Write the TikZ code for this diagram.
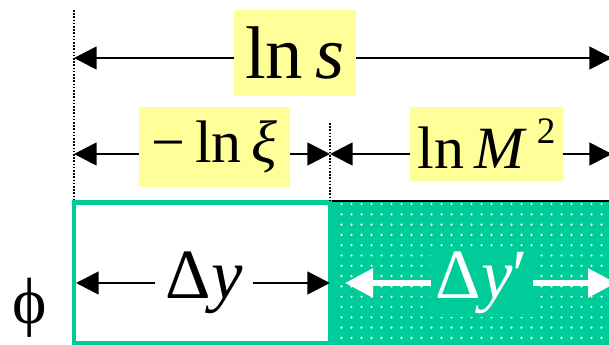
\documentclass[tikz,border=0pt]{standalone}
\usepackage{fontspec}
\setmainfont{Liberation Serif}
\usetikzlibrary{arrows.meta,positioning,calc}
\definecolor{spgreen}{RGB}{0,204,153}
\definecolor{lblyellow}{RGB}{255,255,153}
\tikzset{
  gap/.style={line width=2.1pt,{Triangle[length=17pt,width=17pt]}-{Triangle[length=17pt,width=17pt]}},
  wgap/.style={white,line width=4pt,{Triangle[length=21pt,width=21pt]}-{Triangle[length=21pt,width=21pt]}},
  lbl/.style={fill=lblyellow,inner sep=0pt,anchor=center},
  guide/.style={line width=1.5pt,dash pattern=on 1.2pt off 1.2pt},
}
\begin{document}
\begin{tikzpicture}[x=0.75pt,y=-0.75pt]
  \clip (0,0) rectangle (609,345);
  % green box and the empty one
  \fill[spgreen] (330,201) rectangle (615,350);
  \foreach \i in {0,...,26}{
    \foreach \j in {0,...,13}{
      \fill[white] ({341.5+10*\i},{204+10.3*\j}) circle (1.2);
    }
  }
  \draw[line width=0.9pt] (615,201) -- (330,201) -- (330,350);
  \draw[spgreen,line width=3.2pt] (74,202.5) rectangle (330,343);
  % guides
  \coordinate (gl-top) at (74,10);
  \coordinate (gl-bot) at (74,200);
  \coordinate (gm-top) at (330,123);
  \coordinate (gm-bot) at (330,200);
  \draw[guide] (gl-top) -- (gl-bot);
  \draw[guide] (gm-top) -- (gm-bot);
  % ranges
  \coordinate (s-l) at (74,58);
  \coordinate (s-r) at (612,58);
  \coordinate (xi-l) at (74,154);
  \coordinate (xi-r) at (330,154);
  \coordinate (m-l) at (330,154);
  \coordinate (m-r) at (612,154);
  \coordinate (dy-l) at (76,283);
  \coordinate (dy-r) at (330,283);
  \coordinate (dyp-l) at (345,283);
  \coordinate (dyp-r) at (616,283);
  \draw[gap] (s-l) -- (s-r);
  \draw[gap] (xi-l) -- (xi-r);
  \draw[gap] (m-l) -- (m-r);
  \draw[gap] (dy-l) -- (dy-r);
  \draw[wgap] (dyp-l) -- (dyp-r);
  \node[lbl,minimum width=91.5pt,minimum height=64.5pt,font=\fontsize{56}{60}\selectfont] (lns) at (295,53) {ln\,\textit{s}};
  \node[lbl,minimum width=113pt,minimum height=60pt,font=\fontsize{45}{50}\selectfont] (lnxi) at (214.5,147) {−\,ln\,\textit{ξ}};
  \node[lbl,minimum width=115pt,minimum height=55.5pt,font=\fontsize{45}{50}\selectfont] (lnM) at (486.5,144) {ln\,\textit{M}\,\raisebox{0.42em}{\fontsize{28}{30}\selectfont 2}};
  \node[fill=white,inner xsep=8pt,inner ysep=2pt,font=\fontsize{53}{58}\selectfont] (dy) at (204,283) {Δ\textit{y}};
  \node[fill=spgreen,text=white,inner xsep=4pt,inner ysep=2pt,font=\fontsize{53}{58}\selectfont] (dyp) at (482,283) {Δ\textit{y}′};
  \node[font=\fontsize{49}{54}\selectfont] (phi) at (30,308) {ϕ};
\end{tikzpicture}
\end{document}
